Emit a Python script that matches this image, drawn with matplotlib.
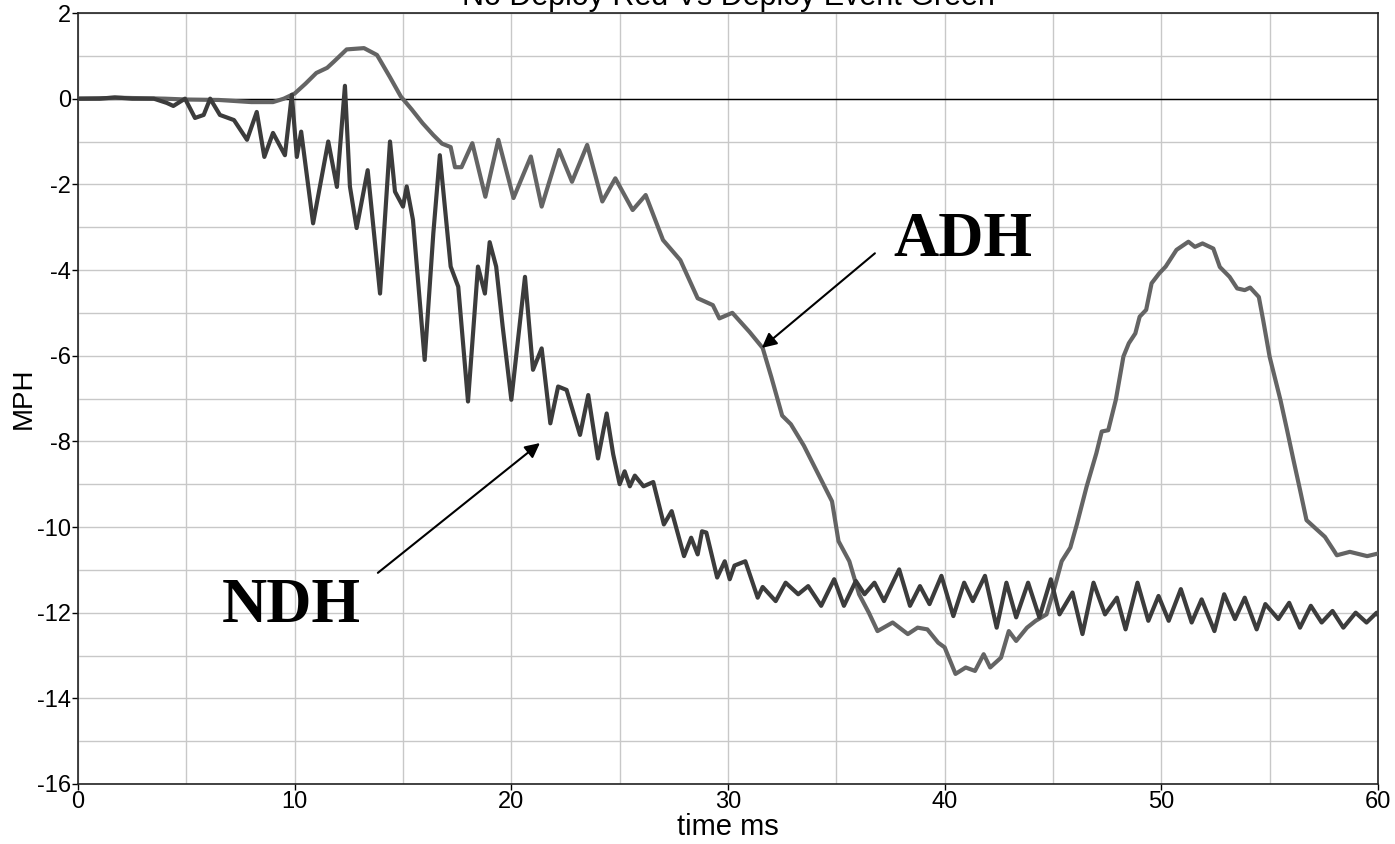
import matplotlib
matplotlib.use('Agg')
import matplotlib.pyplot as plt
from matplotlib.ticker import MultipleLocator

# (time ms, MPH)
adh = [(0, 0), (2, 0.02), (4, 0), (5, -0.02), (6.5, -0.03), (8, -0.08), (9.0, -0.08),
       (9.5, 0.0), (10, 0.12), (10.5, 0.35), (11, 0.6), (11.5, 0.72), (11.8, 0.86),
       (12.4, 1.15), (13.2, 1.18), (13.8, 1.02), (14.4, 0.5), (14.9, 0.05), (15.4, -0.25),
       (15.9, -0.57), (16.4, -0.85), (16.8, -1.05), (17.2, -1.13), (17.4, -1.6), (17.7, -1.6),
       (18.2, -1.04), (18.8, -2.29), (19.4, -0.96), (20.1, -2.32), (20.9, -1.35), (21.4, -2.52),
       (22.2, -1.2), (22.8, -1.94), (23.5, -1.08), (24.2, -2.4), (24.8, -1.86), (25.6, -2.6),
       (26.2, -2.25), (27.0, -3.3), (27.8, -3.77), (28.6, -4.66), (29.3, -4.82), (29.6, -5.13),
       (30.2, -5.0), (31.0, -5.45), (31.6, -5.82), (32.0, -6.5), (32.5, -7.4), (32.9, -7.6),
       (33.5, -8.1), (34.0, -8.6), (34.4, -9.0), (34.8, -9.4), (35.1, -10.33), (35.6, -10.8),
       (36.05, -11.57), (36.5, -12.0), (36.9, -12.43), (37.6, -12.23), (38.3, -12.5),
       (38.75, -12.35), (39.2, -12.39), (39.7, -12.7), (40.0, -12.81), (40.5, -13.43),
       (40.97, -13.28), (41.4, -13.36), (41.8, -12.97), (42.1, -13.28), (42.6, -13.05),
       (42.96, -12.43), (43.3, -12.66), (43.8, -12.35), (44.2, -12.19), (44.7, -12.04),
       (45.07, -11.42), (45.4, -10.8), (45.8, -10.48), (46.1, -9.94), (46.55, -9.06),
       (47.0, -8.28), (47.25, -7.77), (47.55, -7.74), (47.9, -7.03), (48.25, -6.02),
       (48.5, -5.71), (48.8, -5.48), (49.0, -5.09), (49.3, -4.93), (49.55, -4.31),
       (49.9, -4.08), (50.2, -3.92), (50.7, -3.53), (51.25, -3.34), (51.55, -3.46),
       (51.9, -3.38), (52.4, -3.5), (52.7, -3.93), (53.15, -4.16), (53.5, -4.43),
       (53.85, -4.47), (54.1, -4.41), (54.5, -4.63), (54.7, -5.17), (55.0, -6.03),
       (55.5, -7.04), (55.8, -7.73), (56.1, -8.44), (56.4, -9.13), (56.7, -9.84),
       (57.2, -10.07), (57.55, -10.23), (57.95, -10.54), (58.1, -10.66), (58.7, -10.58),
       (59.5, -10.68), (60, -10.62)]

ndh = [(0, 0), (1, 0), (1.7, 0.03), (2.5, 0), (3.5, 0), (4.1, -0.1), (4.4, -0.17), (4.94, 0),
       (5.4, -0.45), (5.8, -0.38), (6.1, 0), (6.55, -0.38), (7.2, -0.5), (7.8, -0.96),
       (8.25, -0.31), (8.6, -1.36), (9.0, -0.8), (9.55, -1.32), (9.87, 0.09), (10.1, -1.36),
       (10.3, -0.77), (10.85, -2.91), (11.55, -1.0), (11.95, -2.06), (12.32, 0.3),
       (12.55, -2.05), (12.86, -3.02), (13.37, -1.67), (13.94, -4.55), (14.4, -1.0),
       (14.63, -2.17), (15.0, -2.52), (15.17, -2.05), (15.46, -2.83), (16.0, -6.1),
       (16.4, -3.14), (16.7, -1.32), (17.2, -3.92), (17.55, -4.39), (18.0, -7.07),
       (18.46, -3.92), (18.78, -4.55), (19.0, -3.35), (19.3, -3.92), (19.6, -5.32),
       (20.0, -7.03), (20.63, -4.16), (21.0, -6.33), (21.4, -5.83), (21.8, -7.58),
       (22.16, -6.72), (22.55, -6.8), (23.17, -7.85), (23.55, -6.92), (24.0, -8.4),
       (24.4, -7.35), (24.7, -8.3), (25.0, -9.0), (25.23, -8.7), (25.47, -9.05), (25.7, -8.8),
       (26.1, -9.05), (26.55, -8.95), (27.04, -9.94), (27.4, -9.63), (27.97, -10.68),
       (28.3, -10.25), (28.6, -10.64), (28.8, -10.1), (29.0, -10.13), (29.5, -11.18),
       (29.85, -10.8), (30.08, -11.22), (30.3, -10.9), (30.8, -10.8), (31.37, -11.65),
       (31.6, -11.4), (32.2, -11.73), (32.66, -11.3), (33.24, -11.57), (33.7, -11.38),
       (34.3, -11.84), (34.9, -11.22), (35.35, -11.84), (35.9, -11.26), (36.3, -11.57),
       (36.76, -11.3), (37.2, -11.73), (37.9, -10.99), (38.4, -11.84), (38.86, -11.38),
       (39.3, -11.8), (39.85, -11.14), (40.4, -12.08), (40.9, -11.3), (41.3, -11.73),
       (41.86, -11.14), (42.4, -12.35), (42.85, -11.3), (43.3, -12.11), (43.85, -11.3),
       (44.37, -12.11), (44.9, -11.22), (45.3, -12.04), (45.9, -11.53), (46.36, -12.5),
       (46.87, -11.3), (47.4, -12.04), (47.95, -11.65), (48.35, -12.39), (48.9, -11.3),
       (49.4, -12.19), (49.87, -11.61), (50.34, -12.19), (50.9, -11.45), (51.4, -12.23),
       (51.86, -11.69), (52.45, -12.43), (52.9, -11.57), (53.4, -12.15), (53.85, -11.65),
       (54.4, -12.39), (54.8, -11.8), (55.4, -12.15), (55.9, -11.77), (56.4, -12.35),
       (56.9, -11.84), (57.4, -12.23), (57.9, -11.96), (58.4, -12.35), (58.97, -12.0),
       (59.47, -12.23), (59.94, -12.0), (60, -12.05)]

title = 'No Deploy Red Vs Deploy Event Green'

adh_t, adh_v = zip(*adh)
ndh_t, ndh_v = zip(*ndh)

plt.rcParams['font.family'] = ['Liberation Sans', 'DejaVu Sans']
plt.rcParams['axes.unicode_minus'] = False

fig = plt.figure(figsize=(13.95, 8.44), dpi=100)
ax = fig.add_axes([78 / 1395, 1 - 784 / 844, 1300 / 1395, 771 / 844])

ax.axhline(0, color='black', lw=1.0, zorder=2)
ax.plot(adh_t, adh_v, color='#646464', lw=3.0, solid_joinstyle='round', zorder=3)
ax.plot(ndh_t, ndh_v, color='#3c3c3c', lw=3.0, solid_joinstyle='round', zorder=4)

ax.set_xlim(0, 60)
ax.set_ylim(-16, 2)
ax.xaxis.set_major_locator(MultipleLocator(10))
ax.xaxis.set_minor_locator(MultipleLocator(5))
ax.yaxis.set_major_locator(MultipleLocator(2))
ax.yaxis.set_minor_locator(MultipleLocator(1))
ax.grid(True, which='both', color='#c8c8c8', lw=1.0)
ax.set_axisbelow(True)
ax.tick_params(which='major', length=4, width=1, pad=1, labelsize=17)
ax.tick_params(which='minor', length=0)
for s in ax.spines.values():
    s.set_color('#222222')
    s.set_linewidth(1.2)

ax.set_xlabel('time ms', fontsize=21, labelpad=0)
ax.set_ylabel('MPH', fontsize=20)
ax.yaxis.set_label_coords(-0.032, 0.5)

fig.text(728 / 1395, 1 - 5 / 844, title, ha='center', va='baseline', fontsize=22)

# labels and their arrows
bold = dict(family='Liberation Serif', fontweight='bold', fontsize=45)
ax.text(40.84, -3.32, 'ADH', ha='center', va='center', **bold)
ax.text(9.83, -11.87, 'NDH', ha='center', va='center', **bold)
arrow = dict(arrowstyle='-|>', color='black', lw=1.5, mutation_scale=22, shrinkA=0, shrinkB=0)
ax.annotate('', xy=(31.56, -5.82), xytext=(36.78, -3.61), arrowprops=arrow)
ax.annotate('', xy=(21.32, -8.04), xytext=(13.84, -11.07), arrowprops=arrow)

fig.savefig('out.png', dpi=100)
